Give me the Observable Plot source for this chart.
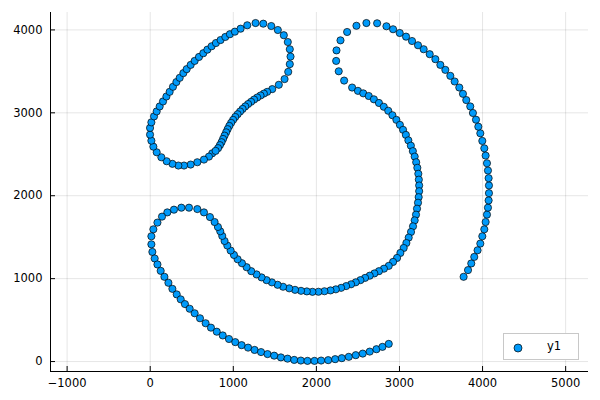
<!DOCTYPE html>
<html>
<head>
<meta charset="utf-8">
<script src="https://cdn.jsdelivr.net/npm/d3@7"></script>
<script src="https://cdn.jsdelivr.net/npm/@observablehq/plot@0.6"></script>
<style>
  html, body { margin: 0; padding: 0; background: #fff; }
  #wrap { position: relative; width: 600px; height: 400px; font-family: "DejaVu Sans", sans-serif; }
  #legend { position: absolute; left: 503px; top: 333px; width: 76px; height: 27px; border: 1px solid #c8c8c8; background: #fff; box-sizing: border-box; }
  #legend svg { position: absolute; left: 6px; top: 6px; }
  #legend span { position: absolute; left: 43px; top: 5px; font-size: 11.5px; color: #000; }
</style>
</head>
<body>
<div id="wrap"><div id="legend"><svg width="16" height="16"><circle cx="8" cy="8" r="4" fill="#009AFA" stroke="#000" stroke-width="0.7"></circle></svg><span>y1</span></div></div>
<script>
const xTicks = [-1000, 0, 1000, 2000, 3000, 4000, 5000];
const yTicks = [0, 1000, 2000, 3000, 4000];
const xDomain = [-1200, 5275];
const yDomain = [-120, 4210];
const seriesName = "y1";

const rightArc = [[3772,1022],[3825,1103],[3864,1183],[3900,1262],[3940,1342],[3973,1423],[3997,1511],[4021,1595],[4037,1683],[4053,1772],[4065,1856],[4073,1943],[4077,2031],[4077,2124],[4073,2212],[4065,2304],[4053,2392],[4037,2484],[4021,2572],[3997,2661],[3973,2753],[3949,2833],[3921,2917],[3884,2998],[3852,3077],[3804,3154],[3764,3229],[3720,3305],[3664,3378],[3612,3446],[3552,3518],[3492,3578],[3432,3647],[3364,3707],[3291,3767],[3223,3815],[3151,3866],[3079,3919],[3003,3963],[2923,4008],[2843,4044],[2731,4080],[2602,4083]];

const topHook = [[2482,4050],[2370,3975],[2290,3874],[2242,3753],[2238,3626],[2269,3501],[2334,3389],[2430,3305]];

const circleArc = [[2500,3265],[2564,3235],[2630,3203],[2692,3163],[2753,3119],[2811,3073],[2865,3025],[2915,2971],[2963,2915],[3005,2855],[3043,2795],[3077,2734],[3107,2668],[3137,2604],[3161,2538],[3183,2472],[3201,2404],[3215,2337],[3227,2265],[3233,2194],[3237,2124],[3237,2055],[3231,1983],[3223,1916],[3211,1844],[3199,1772],[3183,1703],[3163,1631],[3139,1563],[3111,1495],[3083,1430],[3051,1370],[3011,1310],[2971,1250],[2923,1202],[2871,1154],[2813,1120],[2753,1090],[2698,1063],[2642,1036],[2586,1009],[2530,982],[2474,956],[2418,932],[2358,910],[2298,889],[2234,871],[2170,858],[2097,848],[2025,842],[1953,841],[1885,846],[1815,853],[1743,865],[1673,883],[1599,902],[1533,926],[1464,955],[1400,982],[1340,1015],[1280,1051],[1216,1090],[1160,1138],[1104,1186],[1052,1234],[1008,1286],[968,1339],[928,1399],[895,1454],[867,1515],[843,1571],[815,1623],[775,1683],[719,1743]];

const lowerHook = [[647,1799],[567,1839],[467,1856],[375,1856],[286,1832],[206,1799],[142,1748],[87,1676],[38,1595],[14,1511],[14,1414],[26,1322],[54,1243],[87,1171],[126,1094],[171,1022],[219,950],[267,877],[319,810],[367,750],[418,693],[475,637],[535,582],[599,522]];

const bottomArc = [[667,462],[731,409],[801,360],[873,315],[948,272],[1024,234],[1100,198],[1178,168],[1256,140],[1334,114],[1412,90],[1492,71],[1573,50],[1653,35],[1733,20],[1813,12],[1893,8],[1977,8],[2057,12],[2142,17],[2226,29],[2306,41],[2390,57],[2474,77],[2558,96],[2642,120],[2723,149],[2795,177],[2871,213]];

const loop = [[747,2512],[707,2472],[647,2436],[567,2404],[487,2376],[407,2364],[339,2364],[267,2385],[198,2416],[134,2464],[78,2524],[38,2592],[14,2664],[-2,2737],[-2,2818],[14,2885],[46,2957],[78,3017],[114,3077],[154,3137],[195,3197],[234,3253],[274,3314],[315,3371],[355,3422],[399,3479],[439,3527],[487,3578],[535,3626],[587,3674],[639,3719],[688,3762],[739,3803],[791,3842],[847,3878],[904,3915],[959,3948],[1019,3979],[1088,4015],[1168,4056],[1268,4083],[1361,4075],[1457,4047],[1536,3999],[1608,3936],[1656,3854],[1680,3767],[1689,3678],[1680,3587],[1661,3494],[1617,3407],[1548,3338],[1469,3286],[1408,3253],[1368,3232],[1328,3209],[1288,3185],[1250,3160],[1214,3133],[1178,3106],[1144,3077],[1112,3047],[1082,3016],[1052,2983],[1024,2950],[998,2915],[974,2879],[952,2842],[932,2803],[914,2765],[895,2725],[877,2685],[859,2646],[839,2610],[817,2574],[787,2541]];

const points = [...rightArc, ...topHook, ...circleArc, ...lowerHook, ...bottomArc, ...loop]
  .map(([x, y]) => ({x, y, series: seriesName}));

const fmt = d3.format("d");

const chart = Plot.plot({
  width: 600,
  height: 400,
  marginLeft: 50,
  marginRight: 12,
  marginTop: 12,
  marginBottom: 29,
  style: { fontFamily: "DejaVu Sans, sans-serif", fontSize: "11.5px", color: "#000", background: "#fff" },
  x: { domain: xDomain },
  y: { domain: yDomain },
  marks: [
    Plot.gridX(xTicks, { stroke: "#000", strokeOpacity: 0.1, strokeWidth: 1 }),
    Plot.gridY(yTicks, { stroke: "#000", strokeOpacity: 0.1, strokeWidth: 1 }),
    Plot.ruleX([xDomain[0]], { stroke: "#000", strokeWidth: 1 }),
    Plot.ruleY([yDomain[0]], { stroke: "#000", strokeWidth: 1 }),
    Plot.axisX(xTicks, { tickSize: -5, tickPadding: 12, tickFormat: fmt, label: null }),
    Plot.axisY(yTicks, { tickSize: -5, tickPadding: 13, tickFormat: fmt, label: null }),
    Plot.dot(points, { x: "x", y: "y", r: 3.6, fill: "#009AFA", stroke: "#000", strokeWidth: 0.7 })
  ]
});

document.getElementById("wrap").insertBefore(chart, document.getElementById("legend"));
</script>
</body>
</html>
